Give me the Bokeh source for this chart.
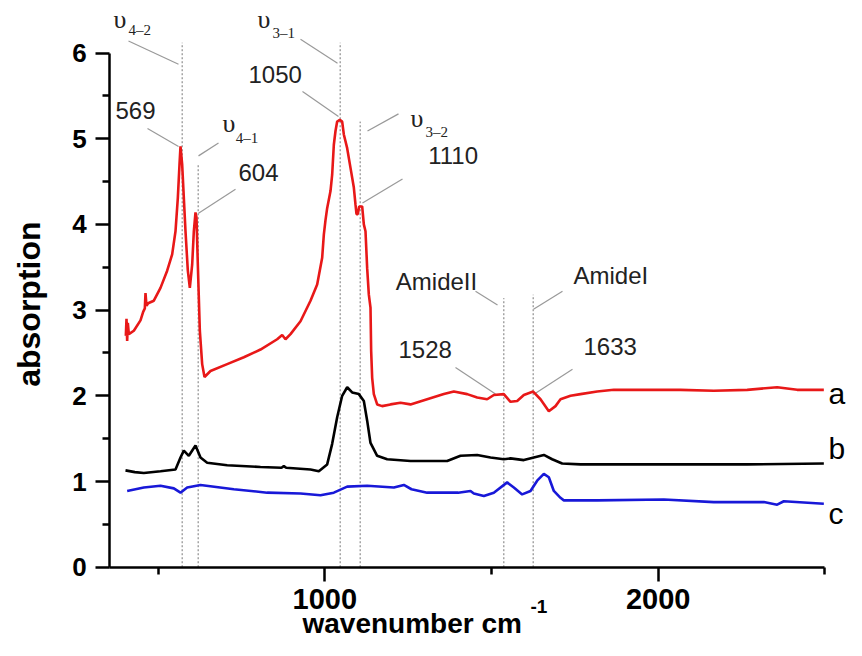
import math
from bokeh.plotting import figure
from bokeh.models import Range1d, FixedTicker, Label
from bokeh.embed import file_html
from bokeh.resources import INLINE

# ---------------- data ----------------
wn_a = [403, 405, 407, 409, 412, 427, 447, 455, 460, 462, 465, 470, 487, 507, 527, 542, 552, 559,
        564, 567, 572, 582, 589, 595, 602, 607, 612, 615, 619, 625, 632, 639, 657, 707, 757, 807,
        857, 872, 882, 897, 927, 957, 977, 992, 997, 1002, 1007, 1017, 1022, 1027, 1032, 1037,
        1045, 1052, 1057, 1067, 1077, 1087, 1092, 1095, 1099, 1103, 1112, 1117, 1122, 1127, 1132,
        1137, 1139, 1142, 1147, 1157, 1172, 1197, 1227, 1257, 1307, 1357, 1387, 1427, 1457, 1487,
        1507, 1537, 1557, 1577, 1597, 1625, 1647, 1672, 1692, 1707, 1737, 1767, 1817, 1867, 1967,
        2067, 2167, 2267, 2357, 2417, 2497]
abs_a = [2.70, 2.90, 2.64, 2.85, 2.72, 2.76, 2.88, 2.98, 3.02, 3.20, 3.05, 3.08, 3.11, 3.26, 3.46,
         3.65, 3.92, 4.31, 4.70, 4.91, 4.70, 3.92, 3.46, 3.26, 3.53, 3.92, 4.14, 4.08, 3.53, 2.76,
         2.37, 2.22, 2.29, 2.37, 2.45, 2.54, 2.66, 2.71, 2.66, 2.72, 2.87, 3.11, 3.30, 3.61, 3.88,
         4.05, 4.19, 4.39, 4.58, 4.93, 5.09, 5.20, 5.22, 5.20, 5.05, 4.89, 4.66, 4.43, 4.23, 4.12,
         4.12, 4.21, 4.21, 4.00, 3.92, 3.49, 3.18, 3.03, 2.52, 2.21, 2.02, 1.90, 1.88, 1.90, 1.92,
         1.90, 1.96, 2.02, 2.05, 2.02, 1.98, 1.96, 2.01, 2.02, 1.93, 1.94, 2.01, 2.05, 1.96, 1.82,
         1.88, 1.96, 2.00, 2.02, 2.05, 2.07, 2.07, 2.07, 2.06, 2.07, 2.10, 2.07, 2.07]

wn_b = [402, 430, 457, 507, 552, 567, 577, 592, 612, 627, 647, 707, 807, 870, 877, 884, 957, 982,
        1007, 1022, 1037, 1052, 1067, 1082, 1102, 1117, 1127, 1137, 1157, 1187, 1257, 1337, 1367,
        1407, 1457, 1497, 1537, 1557, 1597, 1657, 1682, 1712, 1767, 1867, 2067, 2267, 2497]
abs_b = [1.13, 1.11, 1.10, 1.12, 1.14, 1.28, 1.36, 1.30, 1.42, 1.28, 1.22, 1.19, 1.17, 1.16, 1.18,
         1.16, 1.14, 1.12, 1.20, 1.44, 1.75, 2.00, 2.10, 2.04, 2.02, 1.94, 1.71, 1.45, 1.30, 1.26,
         1.24, 1.24, 1.24, 1.30, 1.31, 1.28, 1.26, 1.27, 1.25, 1.31, 1.26, 1.21, 1.20, 1.20, 1.20,
         1.20, 1.21]

wn_c = [407, 457, 507, 547, 567, 587, 627, 727, 827, 927, 987, 1027, 1067, 1127, 1207, 1237, 1260,
        1307, 1400, 1437, 1447, 1477, 1507, 1547, 1567, 1592, 1617, 1637, 1657, 1672, 1687, 1707,
        1717, 1817, 2017, 2167, 2317, 2357, 2377, 2497]
abs_c = [0.89, 0.93, 0.95, 0.92, 0.87, 0.93, 0.96, 0.91, 0.87, 0.86, 0.84, 0.87, 0.94, 0.95, 0.93,
         0.96, 0.91, 0.87, 0.87, 0.89, 0.86, 0.83, 0.87, 0.99, 0.93, 0.85, 0.89, 1.01, 1.09, 1.05,
         0.89, 0.81, 0.78, 0.78, 0.79, 0.76, 0.76, 0.73, 0.77, 0.74]

series_names = ["a", "b", "c"]
series_label_x = [2511, 2511, 2511]
series_label_y = [2.03, 1.38, 0.63]

x_major_ticks = [1000, 2000]
x_minor_ticks = [500, 1500, 2500]
y_major_ticks = [0, 1, 2, 3, 4, 5, 6]
y_minor_ticks = [0.5, 1.5, 2.5, 3.5, 4.5, 5.5]

# dotted marker lines (wavenumber, top)
mark_wn = [572, 620, 1046, 1106, 1537, 1625]
mark_top = [6.12, 4.70, 6.12, 5.20, 3.14, 3.18]

# leader lines
lead_x0 = [411, 468, 681, 732, 927, 933, 1221, 1233, 1452, 1713, 1392, 1743]
lead_y0 = [6.14, 5.12, 4.95, 4.41, 6.16, 5.55, 5.29, 4.53, 3.22, 3.22, 2.33, 2.31]
lead_x1 = [561, 561, 621, 621, 1038, 1041, 1128, 1113, 1518, 1626, 1512, 1632]
lead_y1 = [5.87, 4.91, 4.80, 4.13, 5.88, 5.26, 5.09, 4.25, 3.06, 3.01, 2.02, 2.03]

# number / amide annotation texts (left edge, vertical centre)
ann_text = ["569", "604", "1050", "1110", "AmideII", "AmideI", "1528", "1633"]
ann_x = [372, 741, 771, 1310, 1213, 1746, 1221, 1776]
ann_y = [5.33, 4.61, 5.755, 4.80, 3.334, 3.404, 2.546, 2.575]

# vibration mode labels (upsilon + subscript)
mode_sub = ["4\u20132", "4\u20131", "3\u20131", "3\u20132"]
mode_x = [366, 693, 798, 1257]
mode_y = [6.39, 5.177, 6.39, 5.236]
mode_sub_x = [411, 733, 843, 1302]
mode_sub_y = [6.263, 5.013, 6.228, 5.083]

# ---------------- figure ----------------
p = figure(width=846, height=640, output_backend="svg", toolbar_location=None,
           x_range=Range1d(27, 2565), y_range=Range1d(-0.855, 6.613),
           min_border=0, min_border_left=0, min_border_right=0,
           min_border_top=0, min_border_bottom=0)
p.outline_line_color = None
p.grid.visible = False
p.background_fill_color = "white"
p.border_fill_color = "white"

for ax in (p.xaxis[0], p.yaxis[0]):
    ax.axis_line_width = 2.5
    ax.axis_line_color = "black"
    ax.major_tick_line_width = 2.5
    ax.minor_tick_line_width = 2.5
    ax.major_tick_line_color = "black"
    ax.minor_tick_line_color = "black"
    ax.major_tick_in = 0
    ax.minor_tick_in = 0
    ax.major_tick_out = 14
    ax.minor_tick_out = 7
    ax.major_label_text_font = "Liberation Sans"
    ax.major_label_text_font_style = "bold"
    ax.major_label_text_color = "black"

p.xaxis[0].ticker = FixedTicker(ticks=x_major_ticks, minor_ticks=x_minor_ticks)
p.yaxis[0].ticker = FixedTicker(ticks=y_major_ticks, minor_ticks=y_minor_ticks)
p.xaxis[0].bounds = (355, 2500)
p.yaxis[0].bounds = (0, 6)
p.xaxis[0].fixed_location = 0
p.yaxis[0].fixed_location = 355
p.xaxis[0].major_label_text_font_size = "29px"
p.yaxis[0].major_label_text_font_size = "26px"
p.xaxis[0].major_label_standoff = 8
p.yaxis[0].major_label_standoff = 9

# dotted marker lines
p.segment(x0=mark_wn, y0=[0] * len(mark_wn), x1=mark_wn, y1=mark_top,
          line_color="#777777", line_width=1, line_dash="2 2")
# leader lines
p.segment(x0=lead_x0, y0=lead_y0, x1=lead_x1, y1=lead_y1,
          line_color="#999999", line_width=1.2)

# spectra
p.line(wn_a, abs_a, line_color="#e81818", line_width=2.6)
p.line(wn_b, abs_b, line_color="black", line_width=2.6)
p.line(wn_c, abs_c, line_color="#1818d8", line_width=2.6)

# annotations
for t, x, y in zip(ann_text, ann_x, ann_y):
    p.add_layout(Label(x=x, y=y, text=t, text_font="Liberation Sans", text_font_size="24px",
                       text_color="#222222", text_align="left", text_baseline="middle"))
for s, x, y, sx, sy in zip(mode_sub, mode_x, mode_y, mode_sub_x, mode_sub_y):
    p.add_layout(Label(x=x, y=y, text="\u03c5", text_font="Liberation Serif", text_font_size="26px",
                       text_color="#222222", text_align="left", text_baseline="middle"))
    p.add_layout(Label(x=sx, y=sy, text=s, text_font="Liberation Serif", text_font_size="15px",
                       text_color="#222222", text_align="left", text_baseline="middle"))
for t, x, y in zip(series_names, series_label_x, series_label_y):
    p.add_layout(Label(x=x, y=y, text=t, text_font="Liberation Sans", text_font_size="30px",
                       text_color="black", text_align="left", text_baseline="middle"))

# axis titles
p.add_layout(Label(x=111, y=3.07, text="absorption", text_font="Liberation Sans",
                   text_font_size="32px", text_font_style="bold", angle=math.pi / 2,
                   text_align="center", text_baseline="middle", text_color="black"))
p.add_layout(Label(x=933, y=-0.66, text="wavenumber cm", text_font="Liberation Sans",
                   text_font_size="28px", text_font_style="bold", text_align="left",
                   text_baseline="middle", text_color="black"))
p.add_layout(Label(x=1617, y=-0.453, text="-1", text_font="Liberation Sans",
                   text_font_size="19px", text_font_style="bold", text_align="left",
                   text_baseline="middle", text_color="black"))

open("out.html", "w").write(file_html(p, INLINE))
